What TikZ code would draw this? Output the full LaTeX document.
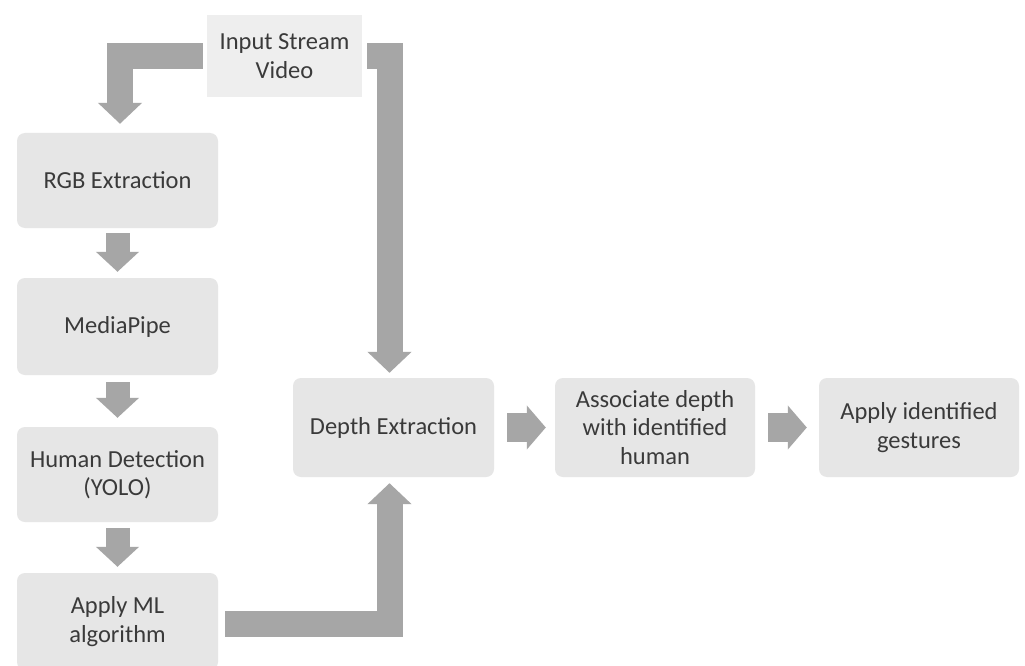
\documentclass[tikz,border=0pt]{standalone}
\usepackage{fontspec}
\setmainfont{Carlito}
\usetikzlibrary{arrows.meta}
\definecolor{boxfill}{HTML}{E6E6E6}
\definecolor{inpfill}{HTML}{EEEEEE}
\definecolor{arrowgray}{HTML}{A6A6A6}
\definecolor{txt}{HTML}{3A3A3A}
\tikzset{
  stepbox/.style={fill=boxfill, rounded corners=8pt, inner sep=0pt, minimum width=201pt,
    minimum height=96pt, align=center, text=txt,
    font=\fontsize{24.5}{28.5}\selectfont},
  inbox/.style={fill=inpfill, inner sep=0pt, minimum width=155pt, minimum height=82pt,
    align=center, text=txt, font=\fontsize{24.5}{28.5}\selectfont},
  bigarrow/.style={draw=arrowgray, line width=26pt, miter limit=10,
    -{Triangle[length=21pt,width=43pt]}, arrowgray},
  smallarrow/.style={draw=arrowgray, line width=24pt,
    -{Triangle[length=20pt,width=42pt]}, arrowgray},
  sidearrow/.style={draw=arrowgray, line width=29pt,
    -{Triangle[length=19pt,width=43pt]}, arrowgray},
}
\begin{document}
\begin{tikzpicture}[x=1pt,y=-1pt]
\useasboundingbox (0,0) rectangle (1025,666);
\clip (0,0) rectangle (1025,666);
\fill[white] (0,0) rectangle (1025,666);

\node[inbox] (inp) at (284.5,56) {Input Stream\\Video};
\node[stepbox, minimum height=95pt] (rgb) at (117.5,180.5) {RGB Extraction};
\node[stepbox, minimum height=97pt] (mp) at (117.5,326.5) {MediaPipe};
\node[stepbox, minimum height=95pt] (hd) at (117.5,474.5) {Human Detection\\(YOLO)};
\node[stepbox, minimum height=97pt] (ml) at (117.5,621.5) {Apply ML\\algorithm};
\node[stepbox, minimum height=99pt] (de) at (393.5,427.5) {Depth Extraction};
\node[stepbox, minimum width=200pt, minimum height=99pt] (as) at (655,427.5) {Associate depth\\with identified\\human};
\node[stepbox, minimum width=200pt, minimum height=99pt] (ag) at (919,427.5) {Apply identified\\gestures};

\draw[bigarrow] ([xshift=-4pt]inp.west) -| ([xshift=2.5pt,yshift=9pt]rgb.north);
\draw[bigarrow] ([xshift=5pt]inp.east) -| ([xshift=-4pt,yshift=5pt]de.north);
\draw[bigarrow] ([xshift=7pt,yshift=-2pt]ml.east) -| ([xshift=-4pt,yshift=-6pt]de.south);

\draw[smallarrow, shorten <=5pt, shorten >=6pt] (rgb.south) -- (mp.north);
\draw[smallarrow, shorten <=7pt, shorten >=9pt] (mp.south) -- (hd.north);
\draw[smallarrow, shorten <=6pt, shorten >=6pt] (hd.south) -- (ml.north);

\draw[sidearrow, shorten <=13pt, shorten >=9pt] (de.east) -- (as.west);
\draw[sidearrow, shorten <=13pt, shorten >=12pt] (as.east) -- (ag.west);
\end{tikzpicture}
\end{document}
